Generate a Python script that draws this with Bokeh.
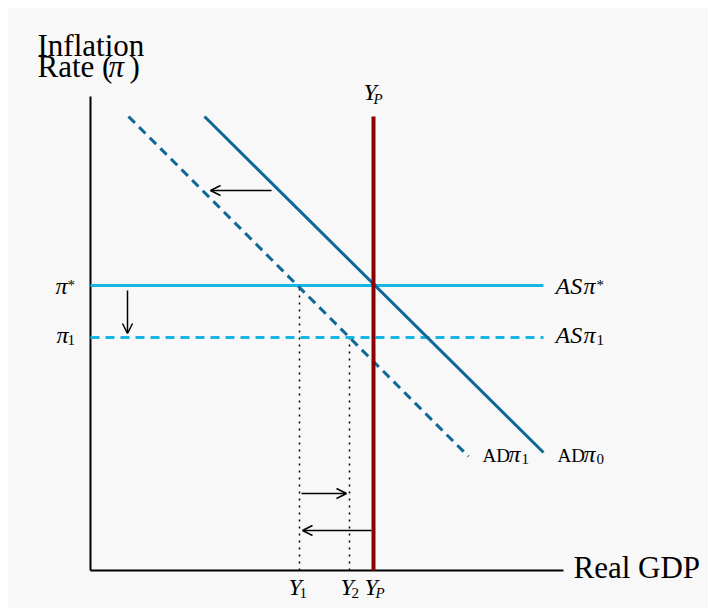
from bokeh.plotting import figure
from bokeh.models import Range1d, Arrow, OpenHead
from bokeh.core.properties import value
from bokeh.embed import file_html
from bokeh.resources import INLINE

# ---- values (units: pixels from the axes' origin) ----
axis_x_end = 473          # end of the Real GDP axis
axis_y_end = 474          # top of the inflation axis
y_p = 283                 # potential output Y_P
y_p_top = 454
y_1 = 209
y_2 = 259
pi_star = 285             # target inflation
pi_1 = 233                # lower inflation
as_x_end = 453
ad0_x = [114, 453]        # AD(pi_0)
ad0_y = [454, 118]
ad1_x = [38, 378]         # AD(pi_1)
ad1_y = [454, 114]
# arrows: (x_start, y_start, x_end, y_end)
arrows = [
    (181, 380, 120, 380),   # AD shifts left
    (37, 280, 37, 237),     # inflation falls
    (211, 77, 256, 77),     # output recovers to Y2
    (281, 40, 212, 40),     # output falls to Y1
]

FONT = "Liberation Serif"
AS_COL = "#16b5e3"
AD_COL = "#0f6797"
YP_COL = "#8b0000"
BG = "#f8f8f8"

p = figure(width=708, height=608, x_range=Range1d(-82, 618), y_range=Range1d(-38, 562),
           min_border=0, min_border_left=8, min_border_right=0, min_border_top=8, min_border_bottom=0,
           toolbar_location=None, output_backend="svg", x_axis_type=None, y_axis_type=None,
           background_fill_color=BG, border_fill_color="white", outline_line_color=None)
p.grid.visible = False

# axes
p.line([0, 0], [0, axis_y_end], line_color="black", line_width=2)
p.line([0, axis_x_end], [0, 0], line_color="black", line_width=2)

# dotted guides
p.line([y_1, y_1], [0, pi_star], line_color="black", line_width=1.5, line_dash="2 5")
p.line([y_2, y_2], [0, pi_1], line_color="black", line_width=1.5, line_dash="2 5")

# AS lines
p.line([0, as_x_end], [pi_star, pi_star], line_color=AS_COL, line_width=3)
p.line([0, as_x_end], [pi_1, pi_1], line_color=AS_COL, line_width=3, line_dash="9 6")

# AD lines
p.line(ad1_x, ad1_y, line_color=AD_COL, line_width=3, line_dash="9 6")
p.line(ad0_x, ad0_y, line_color=AD_COL, line_width=3)

# potential output
p.line([y_p, y_p], [0, y_p_top], line_color=YP_COL, line_width=4)

for xs, ys, xe, ye in arrows:
    p.add_layout(Arrow(x_start=xs, y_start=ys, x_end=xe, y_end=ye, line_width=1.5, line_color="black",
                       end=OpenHead(size=10, line_width=1.5, line_color="black")))


def seg(x, y, txt, size, style="normal"):
    # the svg text baseline sits about a third of an em low; lift it back
    p.text(x=[x], y=[y + 0.33 * size], text=[txt], text_font=value(FONT),
           text_font_size=value(f"{size}px"), text_font_style=style,
           text_align="left", text_baseline="alphabetic", text_color="black")


BIG, MATH, UP, SUB = 31, 24, 19, 15

# title of y axis
seg(-53, 515, "Inflation", BIG)
seg(-53, 494, "Rate (", BIG)
seg(18, 494, "π", BIG, "italic")
seg(39, 494, ")", BIG)
# x axis title
seg(483, -7, "Real GDP", BIG)

# left pi labels
seg(-35, 277, "π", MATH, "italic")
seg(-23, 281, "*", SUB)
seg(-34, 228, "π", MATH, "italic")
seg(-23, 226, "1", SUB)

# AS labels
seg(465, 277, "AS", MATH, "italic")
seg(493, 277, "π", MATH, "italic")
seg(506, 281, "*", SUB)
seg(465, 228, "AS", MATH, "italic")
seg(493, 228, "π", MATH, "italic")
seg(506, 226, "1", SUB)

# AD labels
seg(392, 109, "AD", UP)
seg(418, 109, "π", MATH, "italic")
seg(431, 107, "1", SUB)
seg(467, 109, "AD", UP)
seg(493, 109, "π", MATH, "italic")
seg(506, 107, "0", SUB)

# Y_P at top
seg(273, 471, "Y", MATH, "italic")
seg(283, 467, "P", SUB, "italic")

# bottom labels
seg(198, -24, "Y", MATH, "italic")
seg(209, -27, "1", SUB)
seg(250, -24, "Y", MATH, "italic")
seg(261, -27, "2", SUB)
seg(274, -24, "Y", MATH, "italic")
seg(285, -27, "P", SUB, "italic")

open("out.html", "w").write(file_html(p, INLINE))
